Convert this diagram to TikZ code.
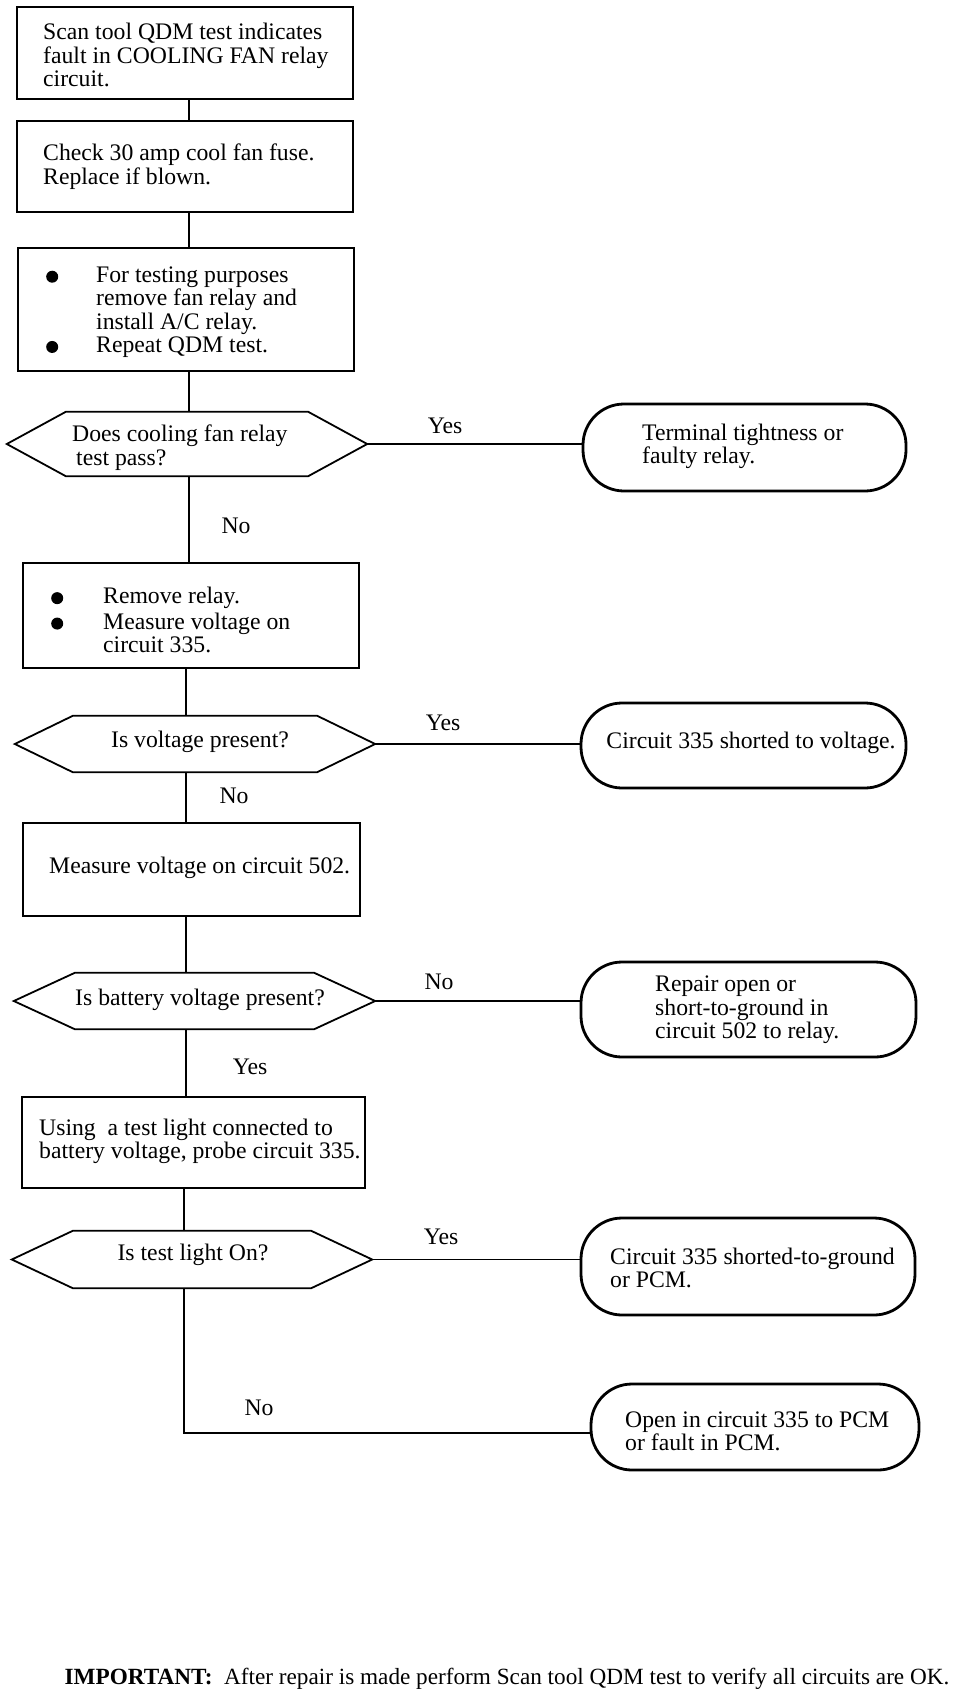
\documentclass[tikz,border=0pt]{standalone}
\usepackage{fontspec}
\setmainfont{Liberation Serif}
\usetikzlibrary{calc}
\newcommand\hexdraw[2]{\draw[hexline] (#1.west) -- ([xshift=#2bp]#1.north west) -- ([xshift=-#2bp]#1.north east) -- (#1.east) -- ([xshift=-#2bp]#1.south east) -- ([xshift=#2bp]#1.south west) -- cycle;}
\newcommand\bigbul{\tikz[baseline={(0bp,-5.5bp)}]\fill (0bp,0bp) circle[radius=6bp];}
\begin{document}
\begin{tikzpicture}[x=1bp,y=-1bp,
  every node/.style={font=\fontsize{23.8}{23.5}\selectfont, inner sep=0pt},
  procbox/.style={draw, line width=1.8bp, rectangle},
  termbox/.style={draw, line width=2.8bp, rectangle, rounded corners=41bp},
  decnode/.style={rectangle},
  hexline/.style={line width=1.8bp, line join=miter},
  conn/.style={line width=1.5bp},
  txt/.style={align=left, anchor=west},
  lbl/.style={}]
\useasboundingbox[fill=white] (0,0) rectangle (976,1698);

\coordinate (spA) at (189,0);
\coordinate (spB) at (186,0);
\coordinate (spC) at (184,0);

% process boxes
\node[procbox, minimum width=336bp, minimum height=92bp] (b1) at (185,53) {};
\node[txt] (b1t) at (43,55) {Scan tool QDM test indicates\\fault in COOLING FAN relay\\circuit.};

\node[procbox, minimum width=336bp, minimum height=91bp] (b2) at (185,166.5) {};
\node[txt] (b2t) at (43,166.5) {Check 30 amp cool fan fuse.\\Replace if blown.};

\node[procbox, minimum width=336bp, minimum height=123bp] (b3) at (186,309.5) {};
\node[txt] (b3t) at (46,312) {\makebox[50bp][l]{\bigbul}For testing purposes\\\hspace*{50bp}remove fan relay and\\\hspace*{50bp}install A/C relay.\\\makebox[50bp][l]{\bigbul}Repeat QDM test.};

\node[procbox, minimum width=336bp, minimum height=105bp] (b4) at (191,615.5) {};
\node[txt] (b4t) at (51,620) {\makebox[52bp][l]{\bigbul}Remove relay.\\[2bp]\makebox[52bp][l]{\bigbul}Measure voltage on\\\hspace*{52bp}circuit 335.};

\node[procbox, minimum width=337bp, minimum height=93bp] (b5) at (191.5,869.5) {};
\node[txt] (b5t) at (49,868) {Measure voltage on circuit 502.};

\node[procbox, minimum width=343bp, minimum height=91bp] (b6) at (193.5,1142.5) {};
\node[txt] (b6t) at (39,1141.5) {Using\ \ a test light connected to\\battery voltage, probe circuit 335.};

% decisions
\node[decnode, minimum width=360bp, minimum height=64bp] (d1) at (187,444) {};
\hexdraw{d1}{59}
\node[txt] (d1t) at (72,447.5) {Does cooling fan relay\\\hspace*{4bp}test pass?};

\node[decnode, minimum width=360bp, minimum height=56bp] (d2) at (195,744) {};
\hexdraw{d2}{58}
\node (d2t) at (200,742) {Is voltage present?};

\node[decnode, minimum width=361bp, minimum height=56bp] (d3) at (194.5,1001) {};
\hexdraw{d3}{61}
\node (d3t) at (200,1000) {Is battery voltage present?};

\node[decnode, minimum width=360bp, minimum height=57bp] (d4) at (192,1259.5) {};
\hexdraw{d4}{61}
\node (d4t) at (193,1255) {Is test light On?};

% terminals
\node[termbox, minimum width=323bp, minimum height=87bp] (t1) at (744.5,447.5) {};
\node[txt] (t1t) at (642,446.5) {Terminal tightness or\\faulty relay.};

\node[termbox, minimum width=325bp, minimum height=85bp] (t2) at (743.5,745.5) {};
\node (t2t) at (751,743) {Circuit 335 shorted to voltage.};

\node[termbox, minimum width=335bp, minimum height=95bp] (t3) at (748.5,1009.5) {};
\node[txt] (t3t) at (655,1010) {Repair open or\\short-to-ground in\\circuit 502 to relay.};

\node[termbox, minimum width=334bp, minimum height=97bp] (t4) at (748,1266.5) {};
\node[txt] (t4t) at (610,1268) {Circuit 335 shorted-to-ground\\or PCM.};

\node[termbox, minimum width=328bp, minimum height=86bp] (t5) at (755,1427) {};
\node[txt] (t5t) at (625,1431.5) {Open in circuit 335 to PCM\\or fault in PCM.};

% connectors
\draw[conn] (b1.south -| spA) -- (b2.north -| spA);
\draw[conn] (b2.south -| spA) -- (b3.north -| spA);
\draw[conn] (b3.south -| spA) -- (d1.north -| spA);
\draw[conn] (d1.south -| spA) -- (b4.north -| spA);
\draw[conn] (d1.east) -- (d1.east -| t1.west);
\draw[conn] (b4.south -| spB) -- (d2.north -| spB);
\draw[conn] (d2.east) -- (d2.east -| t2.west);
\draw[conn] (d2.south -| spB) -- (b5.north -| spB);
\draw[conn] (b5.south -| spB) -- (d3.north -| spB);
\draw[conn] (d3.east) -- (d3.east -| t3.west);
\draw[conn] (d3.south -| spB) -- (b6.north -| spB);
\draw[conn] (b6.south -| spC) -- (d4.north -| spC);
\draw[conn] (d4.east) -- (d4.east -| t4.west);
\coordinate (t5in) at ($(t5.west)+(0,6)$);
\draw[conn] (d4.south -| spC) |- (t5in);

% labels
\node[lbl] (y1) at (445,426) {Yes};
\node[lbl] (n1) at (236,526) {No};
\node[lbl] (y2) at (443,723) {Yes};
\node[lbl] (n2) at (234,796) {No};
\node[lbl] (n3) at (439,982) {No};
\node[lbl] (y3) at (250,1067) {Yes};
\node[lbl] (y4) at (441,1237) {Yes};
\node[lbl] (n4) at (259,1408) {No};

\node[font=\fontsize{23.3}{23.5}\selectfont] (imp) at (507,1679) {\textbf{IMPORTANT:}\ \ After repair is made perform Scan tool QDM test to verify all circuits are OK.};
\end{tikzpicture}
\end{document}
